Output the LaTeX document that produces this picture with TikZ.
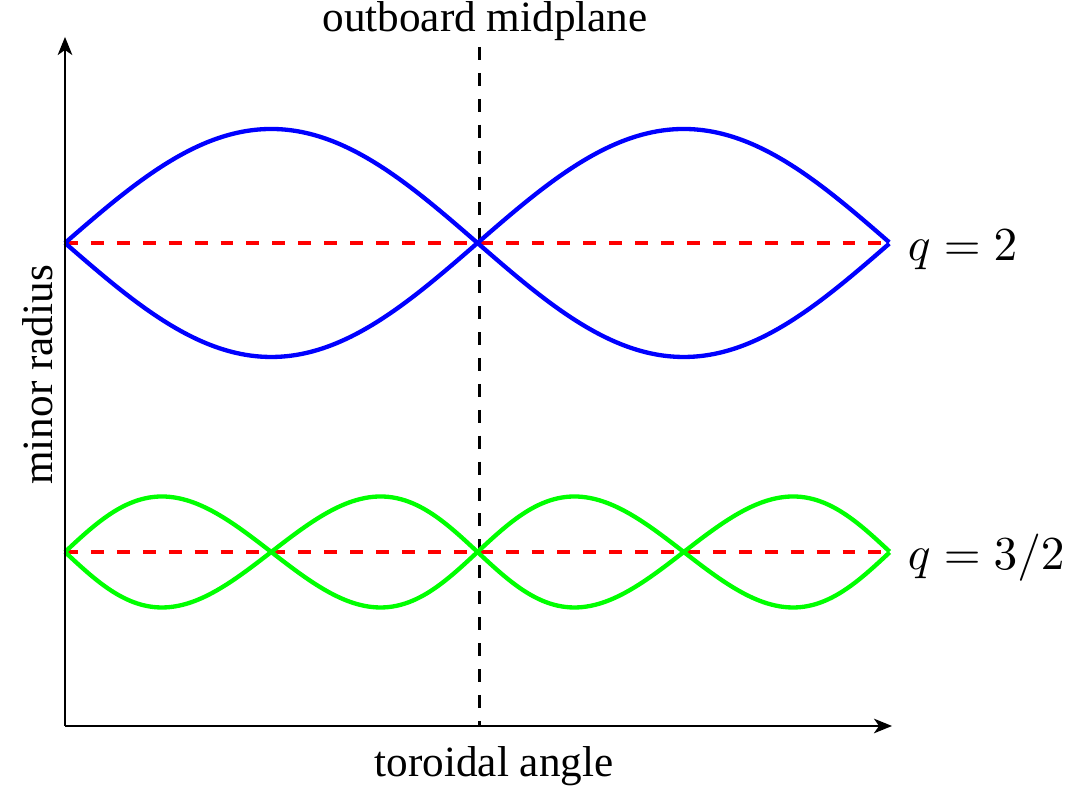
\documentclass[tikz,border=0pt]{standalone}
\usepackage{fontspec}
\setmainfont{Liberation Serif}
\usetikzlibrary{arrows.meta}
\begin{document}
\begin{tikzpicture}[x=0.2315pt,y=0.2315pt,
  axis/.style={line width=0.4pt,-{Stealth[length=4.2pt,width=3.4pt,inset=1.2pt]}},
  midline/.style={line width=0.7pt,dashed,black},
  resline/.style={line width=0.8pt,dashed,red},
  bluecurve/.style={line width=1pt,blue,line join=miter},
  greencurve/.style={line width=1pt,green,line join=miter},
  lbl/.style={font=\fontsize{10}{12}\selectfont,inner sep=0pt},
  mlbl/.style={font=\fontsize{10.5}{12}\selectfont,inner sep=0pt,anchor=west}]
\useasboundingbox (0,0) rectangle (1066,787);
\coordinate (O) at (65,61);
\coordinate (ytop) at (65,750);
\coordinate (xend) at (892,61);
\coordinate (mtop) at (479,740);
\coordinate (mbot) at (479,61);
\coordinate (r2a) at (65,544);
\coordinate (r2b) at (890,544);
\coordinate (r3a) at (65,235);
\coordinate (r3b) at (890,235);
% red dashed rational surfaces
\draw[resline] (r2a) -- (r2b);
\draw[resline] (r3a) -- (r3b);
% midplane
\draw[midline] (mtop) -- (mbot);
% blue curves q=2
\draw[bluecurve] plot[domain=0:2,samples=151,smooth] ({65+412.5*\x},{544+114*sin(180*\x)});
\draw[bluecurve] plot[domain=0:2,samples=151,smooth] ({65+412.5*\x},{544-114*sin(180*\x)});
% green curves q=3/2
\draw[greencurve] plot[domain=0:4,samples=201,smooth] ({65+206.25*(\x-0.03*sin(180*\x))},{235+55.5*sin(180*\x)});
\draw[greencurve] plot[domain=0:4,samples=201,smooth] ({65+206.25*(\x-0.03*sin(180*\x))},{235-55.5*sin(180*\x)});
% axes
\draw[axis] (O) -- (ytop);
\draw[axis] (O) -- (xend);
% labels
\node[lbl] (top) at (485,766) {outboard midplane};
\node[lbl] (bot) at (494,21) {toroidal angle};
\node[lbl,rotate=90] (yl) at (38,412) {minor radius};
\node[mlbl] (q2) at (907,537) {$q=2$};
\node[mlbl] (q3) at (907,229) {$q=3/2$};
\end{tikzpicture}
\end{document}
